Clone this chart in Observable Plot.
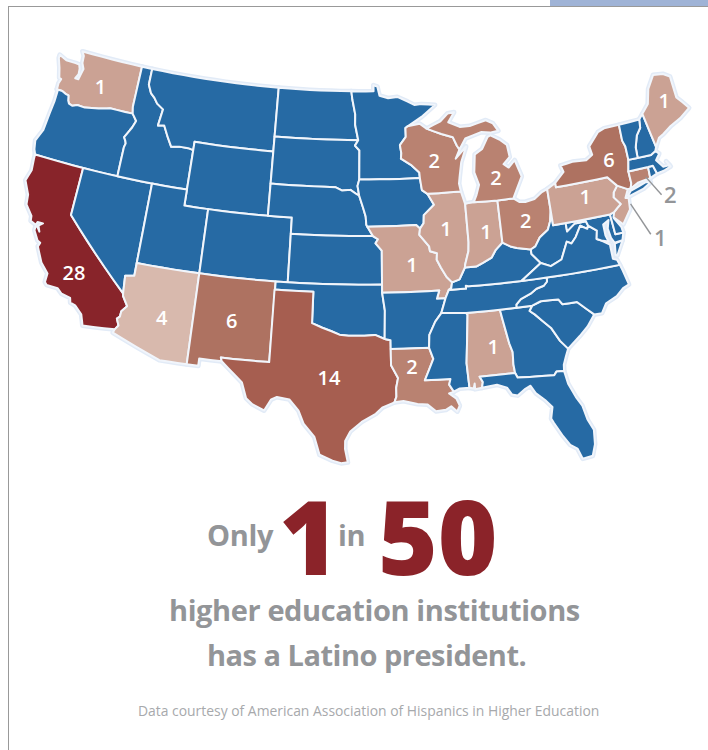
<!DOCTYPE html>
<html><head><meta charset="utf-8">
<script src="https://cdn.jsdelivr.net/npm/d3@7"></script>
<script src="https://cdn.jsdelivr.net/npm/@observablehq/plot@0.6"></script>
<style>
html,body{margin:0;padding:0;background:#fff}
#page{position:relative;width:708px;height:750px;overflow:hidden;font-family:"Open Sans",sans-serif}
#chart{position:absolute;left:0;top:0}
#frameL{position:absolute;left:8px;top:6px;width:1px;height:744px;background:#999}
#frameT{position:absolute;left:8px;top:6px;width:700px;height:1px;background:#999}
#tab{position:absolute;left:550px;top:0;width:158px;height:6px;background:#9fb3d6}
.t{position:absolute;white-space:nowrap;line-height:1;font-weight:700;color:#939598}
.big{color:#8b2329;font-weight:800}
</style></head><body><div id="page">
<div id="tab"></div><div id="frameT"></div><div id="frameL"></div>
<div id="chart"></div>
<div id="lines"></div>
</div>
<script>
// Presidents per state (all other states: 0)
const stateNames=["WA","CA","AZ","NM","TX","LA","MO","IL","IN","WI","MI","OH","NY","PA","NJ","CT","ME","AL"];
const stateCounts=[1,28,4,6,14,2,1,1,1,2,2,2,6,1,1,2,1,1];
const colorDomain=[0,1,2,4,6,14,28];
const colorRange=["#266aa4","#cba294","#b98271","#d8b9ad","#ae7261","#a65e50","#88242a"];
// Label anchors [lon,lat]; NJ and CT are labelled off the map
const labelPlaces=[[-120.3,47.1],[-118.65,35.55],[-111.4,33.9],[-106.1,34.3],[-98.6,31.15],[-92.5,31.8],[-92.2,38.1],[-89.3,40.2],[-86.05,39.8],[-89.9,44.5],[-84.7,43.05],[-82.7,40.2],[-74.9,43],[-77.5,41.05],null,null,[-68.95,45.65],[-86.4,32.7]];
// Off-map labels
const outerLabels=[{v:2,at:[-70.63,39.97],from:[-72.2,41.47],to:[-71.3,40.15]},{v:1,at:[-72.3,37.55],from:[-73.95,40.08],to:[-72.94,37.96]}];

// Outlines, lon/lat
const WA=[[-124.05,46.27],[-124.07,46.65],[-123.95,46.95],[-124.15,47],[-124.4,47.6],[-124.72,48.17],[-124.72,48.38],[-124,48.17],[-123.1,48.17],[-122.75,48.15],[-122.6,47.9],[-122.55,47.55],[-122.75,47.25],[-122.45,47.25],[-122.35,47.6],[-122.25,47.95],[-122.5,48.3],[-122.55,48.75],[-122.78,49],[-117.03,49],[-117.04,46.42],[-116.92,46],[-119,46],[-119.3,45.93],[-120,45.82],[-120.6,45.74],[-121.2,45.65],[-121.9,45.68],[-122.3,45.55],[-122.65,45.62],[-122.8,45.8],[-122.9,46.1],[-123.2,46.15],[-123.55,46.26]];
const OR=[[-124.05,46.27],[-123.55,46.26],[-123.2,46.15],[-122.9,46.1],[-122.8,45.8],[-122.65,45.62],[-122.3,45.55],[-121.9,45.68],[-121.2,45.65],[-120.6,45.74],[-120,45.82],[-119.3,45.93],[-119,46],[-116.92,46],[-116.48,45.6],[-116.7,45.15],[-116.85,44.95],[-117.2,44.45],[-117.03,44.25],[-116.95,44.1],[-117.03,43.83],[-117.03,42],[-124.21,42],[-124.4,42.3],[-124.55,42.84],[-124.15,43.6],[-124.05,44.7],[-123.95,45.5],[-123.95,46.2]];
const CA=[[-124.21,42],[-120,42],[-120,39],[-114.63,35],[-114.6,34.85],[-114.14,34.27],[-114.5,33.9],[-114.53,33.55],[-114.72,33.4],[-114.5,33],[-114.72,32.72],[-117.12,32.53],[-117.25,32.85],[-117.4,33.2],[-118,33.65],[-118.4,33.75],[-118.5,34.03],[-119.2,34.15],[-119.6,34.42],[-120.47,34.45],[-120.65,34.6],[-120.63,35.15],[-121.3,35.7],[-121.9,36.6],[-121.8,36.85],[-122.05,36.95],[-122.5,37.5],[-122.5,37.75],[-122.35,37.75],[-122.1,37.5],[-122.3,37.85],[-122,38.05],[-122.45,38.05],[-122.52,37.85],[-123,38],[-123.05,38.3],[-123.7,38.9],[-123.8,39.5],[-124.35,40.3],[-124.1,41],[-124.2,41.75]];
const NV=[[-120,42],[-114.04,42],[-114.04,36.2],[-114.74,36.1],[-114.63,35],[-120,39]];
const ID=[[-117.03,49],[-116.05,49],[-116.05,48],[-115.7,47.5],[-115.3,47.25],[-114.95,46.93],[-114.33,46.65],[-114.5,45.6],[-113.95,45.68],[-113.45,45],[-113,44.45],[-112.3,44.55],[-111.5,44.55],[-111.05,44.48],[-111.05,42],[-117.03,42],[-117.03,43.83],[-116.95,44.1],[-117.03,44.25],[-117.2,44.45],[-116.85,44.95],[-116.7,45.15],[-116.48,45.6],[-116.92,46],[-117.04,46.42]];
const MT=[[-116.05,49],[-104.05,49],[-104.05,45],[-111.05,45],[-111.05,44.48],[-111.5,44.55],[-112.3,44.55],[-113,44.45],[-113.45,45],[-113.95,45.68],[-114.5,45.6],[-114.33,46.65],[-114.95,46.93],[-115.3,47.25],[-115.7,47.5],[-116.05,48]];
const WY=[[-111.05,45],[-104.05,45],[-104.05,41],[-111.05,41]];
const UT=[[-114.04,42],[-111.05,42],[-111.05,41],[-109.05,41],[-109.05,37],[-114.04,37]];
const CO=[[-109.05,41],[-102.05,41],[-102.05,37],[-109.05,37]];
const AZ=[[-114.04,37],[-109.05,37],[-109.05,31.33],[-111.07,31.33],[-114.81,32.5],[-114.72,32.72],[-114.5,33],[-114.72,33.4],[-114.53,33.55],[-114.5,33.9],[-114.14,34.27],[-114.6,34.85],[-114.63,35],[-114.74,36.1],[-114.04,36.2]];
const NM=[[-109.05,37],[-103,37],[-103.04,32],[-106.62,32],[-106.53,31.78],[-108.2,31.78],[-108.2,31.33],[-109.05,31.33]];
const ND=[[-104.05,49],[-97.23,49],[-97.13,48.5],[-96.85,47.55],[-96.85,46.9],[-96.56,45.94],[-104.05,45.94]];
const SD=[[-104.05,45.94],[-96.56,45.94],[-96.85,45.6],[-96.45,45.3],[-96.45,43.5],[-96.6,43.1],[-96.45,42.49],[-96.7,42.6],[-97.2,42.85],[-97.9,42.8],[-98.5,43],[-104.05,43]];
const NE=[[-104.05,43],[-98.5,43],[-97.9,42.8],[-97.2,42.85],[-96.7,42.6],[-96.45,42.49],[-96.1,41.7],[-95.9,41.2],[-95.85,40.7],[-95.31,40],[-102.05,40],[-102.05,41],[-104.05,41]];
const KS=[[-102.05,40],[-95.31,40],[-94.9,39.8],[-95.1,39.55],[-94.6,39.1],[-94.62,37],[-102.05,37]];
const OK=[[-103,37],[-94.62,37],[-94.62,36.5],[-94.43,35.4],[-94.48,33.64],[-95.2,33.9],[-96,33.85],[-96.6,33.85],[-97.2,33.85],[-97.9,33.9],[-98.5,34.1],[-99.2,34.3],[-100,34.56],[-100,36.5],[-103,36.5]];
const TX=[[-103.04,36.5],[-100,36.5],[-100,34.56],[-99.2,34.3],[-98.5,34.1],[-97.9,33.9],[-97.2,33.85],[-96.6,33.85],[-96,33.85],[-95.2,33.9],[-94.48,33.64],[-94.04,33.55],[-94.04,33.02],[-94.04,32],[-93.55,31.2],[-93.7,30.6],[-93.7,30.05],[-93.85,29.7],[-94.7,29.4],[-95.2,29],[-96.2,28.5],[-97,27.9],[-97.35,27.3],[-97.35,26.8],[-97.15,25.96],[-97.6,25.9],[-98.2,26.05],[-99.1,26.4],[-99.5,27.5],[-100.3,28.3],[-100.7,29.1],[-101.4,29.77],[-102.3,29.87],[-102.7,29.7],[-103.15,28.98],[-104,29.3],[-104.5,29.65],[-104.9,30.6],[-106,31.4],[-106.53,31.78],[-106.62,32],[-103.04,32]];
const MN=[[-97.23,49],[-95.15,49],[-95.15,49.38],[-94.8,49.3],[-94.6,48.72],[-93.8,48.55],[-92.95,48.62],[-92,48.3],[-91.4,48.07],[-90.75,48.1],[-89.5,48],[-90.8,47.3],[-92.1,46.75],[-92.3,46.65],[-92.3,46.1],[-92.85,45.6],[-92.75,45.1],[-92.8,44.75],[-91.95,44.35],[-91.25,43.85],[-91.22,43.5],[-96.45,43.5],[-96.45,45.3],[-96.85,45.6],[-96.56,45.94],[-96.85,46.9],[-96.85,47.55],[-97.13,48.5]];
const IA=[[-96.45,43.5],[-91.22,43.5],[-91.1,42.75],[-90.65,42.5],[-90.15,41.8],[-91.05,41.2],[-91.1,40.7],[-91.42,40.38],[-91.73,40.61],[-95.77,40.58],[-95.85,40.7],[-95.9,41.2],[-96.1,41.7],[-96.45,42.49],[-96.6,43.1]];
const MO=[[-95.77,40.58],[-91.73,40.61],[-91.42,40.38],[-91.5,40],[-90.75,39.25],[-90.7,38.95],[-90.15,38.8],[-90.2,38.4],[-89.9,37.9],[-89.5,37.3],[-89.1,36.95],[-89.2,36.6],[-89.4,36.5],[-89.7,36],[-90.37,36],[-90.15,36.5],[-94.62,36.5],[-94.62,37],[-94.6,39.1],[-95.1,39.55],[-94.9,39.8],[-95.31,40]];
const AR=[[-94.62,36.5],[-90.15,36.5],[-90.37,36],[-89.7,36],[-90.1,35.1],[-90.6,34.6],[-91.1,33.8],[-91.17,33],[-94.04,33.02],[-94.04,33.55],[-94.48,33.64],[-94.43,35.4]];
const LA=[[-94.04,33.02],[-91.17,33],[-90.9,32.3],[-91.6,31],[-89.73,31],[-89.85,30.65],[-89.55,30.2],[-89.9,30.1],[-89.4,29.75],[-89.2,29.3],[-89.4,28.95],[-89.8,29.3],[-90.2,29.1],[-90.9,29.05],[-91.5,29.5],[-92.2,29.55],[-93.2,29.77],[-93.85,29.7],[-93.7,30.05],[-93.7,30.6],[-93.55,31.2],[-94.04,32]];
const MS=[[-90.1,35.1],[-88.2,35],[-88.1,34.9],[-88.47,31.9],[-88.4,30.37],[-89.1,30.37],[-89.55,30.2],[-89.85,30.65],[-89.73,31],[-91.6,31],[-90.9,32.3],[-91.17,33],[-91.1,33.8],[-90.6,34.6]];
const AL=[[-88.2,35],[-85.6,35],[-85.18,32.87],[-85,32.3],[-85.05,31.55],[-85,31],[-87.6,31],[-87.4,30.65],[-87.5,30.3],[-88,30.25],[-88,30.6],[-88.1,30.3],[-88.4,30.37],[-88.47,31.9],[-88.1,34.9]];
const GA=[[-85.6,35],[-83.1,35],[-83.35,34.7],[-83,34.45],[-82.5,34],[-81.9,33.45],[-81.4,32.6],[-80.9,32.05],[-81.15,31.6],[-81.4,31.1],[-81.45,30.72],[-82,30.75],[-82.2,30.55],[-84.86,30.7],[-85,31],[-85.05,31.55],[-85,32.3],[-85.18,32.87]];
const FL=[[-87.6,31],[-85,31],[-84.86,30.7],[-82.2,30.55],[-82,30.75],[-81.45,30.72],[-81.3,29.9],[-80.9,29],[-80.55,28.4],[-80.35,27.5],[-80.03,26.8],[-80.12,25.9],[-80.4,25.2],[-81.1,25.12],[-81.35,25.8],[-81.8,26.1],[-82.2,26.7],[-82.7,27.6],[-82.85,27.9],[-82.65,28.6],[-83.1,29.1],[-83.7,29.6],[-84,30.1],[-84.4,29.95],[-85,29.6],[-85.4,29.7],[-85.7,30.15],[-86.4,30.4],[-87.5,30.3],[-87.4,30.65]];
const SC=[[-83.1,35],[-82.4,35.2],[-81.05,35.15],[-80.8,34.82],[-79.67,34.8],[-78.55,33.86],[-79.2,33.2],[-79.9,32.7],[-80.9,32.05],[-81.4,32.6],[-81.9,33.45],[-82.5,34],[-83,34.45],[-83.35,34.7]];
const NC=[[-84.32,35],[-83.1,35],[-82.4,35.2],[-81.05,35.15],[-80.8,34.82],[-79.67,34.8],[-78.55,33.86],[-77.95,33.85],[-77.5,34.4],[-76.6,34.7],[-76,35.1],[-75.5,35.25],[-75.75,36.2],[-75.87,36.55],[-81.68,36.59],[-81.7,36.35],[-82,36.12],[-82.6,36],[-83.1,35.75],[-83.9,35.5],[-84.3,35.2]];
const TN=[[-90.1,35.1],[-89.7,36],[-89.4,36.5],[-88.05,36.5],[-88.05,36.68],[-87.85,36.63],[-83.68,36.6],[-81.68,36.59],[-81.7,36.35],[-82,36.12],[-82.6,36],[-83.1,35.75],[-83.9,35.5],[-84.3,35.2],[-84.32,35],[-85.6,35],[-88.2,35]];
const KY=[[-89.4,36.5],[-89.2,36.6],[-89.1,36.95],[-88.5,37.1],[-88,37.8],[-87.1,37.8],[-86.5,38],[-85.8,38.25],[-85.4,38.7],[-84.8,39.1],[-84.2,38.8],[-83.7,38.65],[-82.6,38.45],[-82.6,38.17],[-81.97,37.54],[-83.68,36.6],[-87.85,36.63],[-88.05,36.68],[-88.05,36.5]];
const IL=[[-90.65,42.5],[-87.8,42.5],[-87.53,41.7],[-87.53,39.35],[-87.6,38.8],[-87.95,38],[-88,37.8],[-88.5,37.1],[-89.1,36.95],[-89.5,37.3],[-89.9,37.9],[-90.2,38.4],[-90.15,38.8],[-90.7,38.95],[-90.75,39.25],[-91.5,40],[-91.42,40.38],[-91.1,40.7],[-91.05,41.2],[-90.15,41.8]];
const IN=[[-87.53,41.7],[-87.2,41.75],[-86.8,41.76],[-84.8,41.72],[-84.8,39.1],[-85.4,38.7],[-85.8,38.25],[-86.5,38],[-87.1,37.8],[-88,37.8],[-87.95,38],[-87.6,38.8],[-87.53,39.35]];
const OH=[[-84.8,41.72],[-83.45,41.72],[-83,41.45],[-82.5,41.4],[-81.7,41.5],[-81,41.85],[-80.52,41.98],[-80.52,40.64],[-80.7,40],[-81,39.5],[-81.75,39.1],[-82.2,38.6],[-82.6,38.45],[-83.7,38.65],[-84.2,38.8],[-84.8,39.1]];
const WV=[[-82.6,38.17],[-82.6,38.45],[-82.2,38.6],[-81.75,39.1],[-81,39.5],[-80.7,40],[-80.52,40.64],[-80.52,39.72],[-79.48,39.72],[-79.48,39.2],[-78.75,39.6],[-78.4,39.6],[-77.83,39.6],[-77.72,39.32],[-77.83,39.13],[-78.35,39.4],[-78.87,38.77],[-79.3,38.42],[-79.65,38.58],[-80.3,37.55],[-81.22,37.25],[-81.97,37.54]];
const VA=[[-83.68,36.6],[-81.97,37.54],[-81.22,37.25],[-80.3,37.55],[-79.65,38.58],[-79.3,38.42],[-78.87,38.77],[-78.35,39.4],[-77.83,39.13],[-77.72,39.32],[-77.1,38.9],[-77.25,38.4],[-76.9,38.25],[-76.3,37.9],[-76.3,37],[-76,36.9],[-75.87,36.55],[-81.68,36.59]];
const VAshore=[[-75.9,37.9],[-75.25,38],[-75.9,37.15],[-76.02,37.2]];
const MD=[[-79.48,39.72],[-75.79,39.72],[-75.7,38.46],[-75.05,38.45],[-75.25,38],[-75.9,37.95],[-76.1,38.3],[-76.2,38.9],[-76,39.4],[-76.5,39.2],[-76.5,38.5],[-76.35,38.1],[-76.9,38.25],[-77.25,38.4],[-77.1,38.9],[-77.72,39.32],[-77.83,39.6],[-78.4,39.6],[-78.75,39.6],[-79.48,39.2]];
const DE=[[-75.79,39.72],[-75.42,39.8],[-75.55,39.45],[-75.1,38.8],[-75.05,38.45],[-75.7,38.46]];
const NJ=[[-74.7,41.36],[-73.9,41],[-74.25,40.5],[-74,40.45],[-74.1,39.75],[-74.9,38.95],[-75.55,39.5],[-75.42,39.8],[-75.1,40],[-74.75,40.2],[-75.2,40.7],[-75.1,41]];
const PA=[[-80.52,41.98],[-79.76,42.27],[-79.76,42],[-75.35,42],[-75.1,41.75],[-74.7,41.36],[-75.1,41],[-75.2,40.7],[-74.75,40.2],[-75.1,40],[-75.42,39.8],[-75.79,39.72],[-80.52,39.72],[-80.52,40.64]];
const NY=[[-79.76,42],[-79.76,42.27],[-78.9,42.85],[-79.05,43.27],[-78,43.37],[-76.8,43.3],[-76.2,43.55],[-76.3,44.1],[-75.3,44.85],[-74.7,45],[-73.35,45],[-73.4,44],[-73.25,43.6],[-73.27,42.75],[-73.5,42.05],[-73.5,41.3],[-73.65,41],[-73.9,41],[-74.7,41.36],[-75.1,41.75],[-75.35,42]];
const LI=[[-74,40.6],[-73.7,40.85],[-72.3,41.15],[-71.9,41.07],[-72.6,40.8],[-73.9,40.55]];
const CT=[[-73.5,42.05],[-71.8,42.02],[-71.85,41.32],[-72.9,41.25],[-73.65,41],[-73.5,41.3]];
const RI=[[-71.8,42.02],[-71.38,42.02],[-71.2,41.5],[-71.85,41.32]];
const MA=[[-73.5,42.05],[-73.27,42.75],[-71.3,42.7],[-70.85,42.87],[-70.6,42.65],[-71,42.3],[-70.55,41.8],[-70,41.8],[-70.2,42.07],[-69.95,41.7],[-70.6,41.55],[-71.2,41.5],[-71.38,42.02],[-71.8,42.02]];
const NH=[[-71.5,45.01],[-71.1,45.3],[-70.7,43.1],[-70.85,42.87],[-71.3,42.7],[-72.46,42.73],[-72.4,43.4],[-72.05,44.1],[-71.6,44.5]];
const VT=[[-73.35,45],[-71.5,45.01],[-71.6,44.5],[-72.05,44.1],[-72.4,43.4],[-72.46,42.73],[-73.27,42.75],[-73.25,43.6],[-73.4,44]];
const ME=[[-71.1,45.3],[-70.4,45.8],[-70,46.7],[-69.23,47.46],[-68.35,47.35],[-67.8,47.07],[-67.8,45.7],[-67.4,45.3],[-67,44.85],[-68,44.4],[-69,44.1],[-69.8,43.75],[-70.25,43.6],[-70.7,43.1]];
const WI=[[-92.1,46.75],[-91,46.88],[-90.4,46.55],[-89.1,46.15],[-88.1,45.9],[-87.8,45.35],[-87.6,45.1],[-88,44.55],[-87,45.25],[-87.55,44.3],[-87.8,43.4],[-87.9,43],[-87.8,42.5],[-90.65,42.5],[-91.1,42.75],[-91.22,43.5],[-91.25,43.85],[-91.95,44.35],[-92.8,44.75],[-92.75,45.1],[-92.85,45.6],[-92.3,46.1],[-92.3,46.65]];
const MIlower=[[-84.8,41.72],[-86.8,41.76],[-86.5,42.2],[-86.2,42.8],[-86.5,43.6],[-86.3,44.7],[-85.6,45],[-85,45.7],[-84.75,45.78],[-84,45.45],[-83.4,45.05],[-83.3,44.3],[-83.9,43.9],[-83.5,43.65],[-82.9,44.05],[-82.5,43],[-83.1,42.2],[-83.45,41.72]];
const MIupper=[[-90.4,46.55],[-89.1,46.95],[-88.4,47.4],[-87.8,47.45],[-88.4,46.85],[-87.4,46.5],[-86.5,46.5],[-85,46.75],[-84.4,46.5],[-84,46],[-84.75,45.95],[-85.5,46.05],[-86.3,45.9],[-87,45.75],[-87.6,45.1],[-87.8,45.35],[-88.1,45.9],[-89.1,46.15]];

const outlines={WA,OR,CA,NV,ID,MT,WY,UT,CO,AZ,NM,ND,SD,NE,KS,OK,TX,MN,IA,MO,AR,LA,MS,AL,GA,FL,SC,NC,TN,KY,IL,IN,OH,WV,VA,VAshore,MD,DE,NJ,PA,NY,LI,CT,RI,MA,NH,VT,ME,WI,MIlower,MIupper};
const countOf=n=>{const key=n==="MIlower"||n==="MIupper"?"MI":n;const i=stateNames.indexOf(key);return i<0?0:stateCounts[i]};
// straight borders follow the parallels: subdivide long edges in lon/lat
function fine(ring){const out=[];const closed=[...ring,ring[0]];
  for(let i=0;i<ring.length;i++){const [a,b]=[closed[i],closed[i+1]];const k=Math.ceil(Math.max(Math.abs(a[0]-b[0]),Math.abs(a[1]-b[1])));
    for(let j=0;j<k;j++)out.push([a[0]+(b[0]-a[0])*j/k,a[1]+(b[1]-a[1])*j/k]);}
  out.push(out[0]);return out;}
const features=Object.entries(outlines).map(([name,ring])=>({type:"Feature",properties:{name,value:countOf(name)},geometry:{type:"Polygon",coordinates:[fine(ring)]}}));

const albers=d3.geoConicEqualArea().parallels([29.5,45.5]).rotate([96,0]).center([0,38]).scale(920).translate([364,268]);
const projection=d3.geoTransform({point(lon,lat){const p=albers([lon,lat]);this.stream.point(p[0],p[1]);}});

const labels=stateNames.map((n,i)=>({n,v:stateCounts[i],place:labelPlaces[i]})).filter(d=>d.place).map(d=>({...d,lon:d.place[0],lat:d.place[1]}));
const FONT='"Open Sans",sans-serif';
const plot=Plot.plot({width:708,height:480,margin:0,projection,
  color:{type:"ordinal",domain:colorDomain,range:colorRange},
  style:{background:"transparent"},
  marks:[
    Plot.geo(features,{stroke:"#e2ebf7",strokeWidth:5,strokeLinejoin:"round",fill:"#e2ebf7"}),
    Plot.geo(features,{fill:d=>d.properties.value,stroke:"#f1f5fb",strokeWidth:2,strokeLinejoin:"round"}),
    Plot.link(outerLabels,{x1:d=>d.from[0],y1:d=>d.from[1],x2:d=>d.to[0],y2:d=>d.to[1],stroke:"#939598",strokeWidth:1.4}),
    Plot.text(labels,{x:"lon",y:"lat",text:d=>String(d.v),fill:"white",fontSize:20,fontWeight:600,fontFamily:FONT}),
    Plot.text(outerLabels,{x:d=>d.at[0],y:d=>d.at[1],text:d=>String(d.v),fill:"#939598",fontSize:22,fontWeight:600,fontFamily:FONT})
  ]});
document.getElementById("chart").append(plot);

const headline=[
 {s:"Only",x:207,y:520,size:29,ls:-.3},{s:"1",x:279,y:485,size:102,big:1},{s:"in",x:338,y:520,size:29,ls:-.3},{s:"50",x:378,y:485,size:102,big:1},
 {s:"higher education institutions",x:169,y:595,size:29,ls:-.4},{s:"has a Latino president.",x:207,y:640,size:29,ls:-.5}];
const host=document.getElementById("lines");
headline.forEach(h=>{const e=document.createElement("div");e.className="t"+(h.big?" big":"");e.textContent=h.s;e.style.cssText=`left:${h.x}px;top:${h.y}px;font-size:${h.size}px;letter-spacing:${h.ls||0}px`;host.append(e);});
const cap=document.createElement("div");cap.className="t";cap.textContent="Data courtesy of American Association of Hispanics in Higher Education";
cap.style.cssText="left:138px;top:704px;font-size:13.9px;font-weight:400;color:#a7a9ac";host.append(cap);
</script></body></html>
